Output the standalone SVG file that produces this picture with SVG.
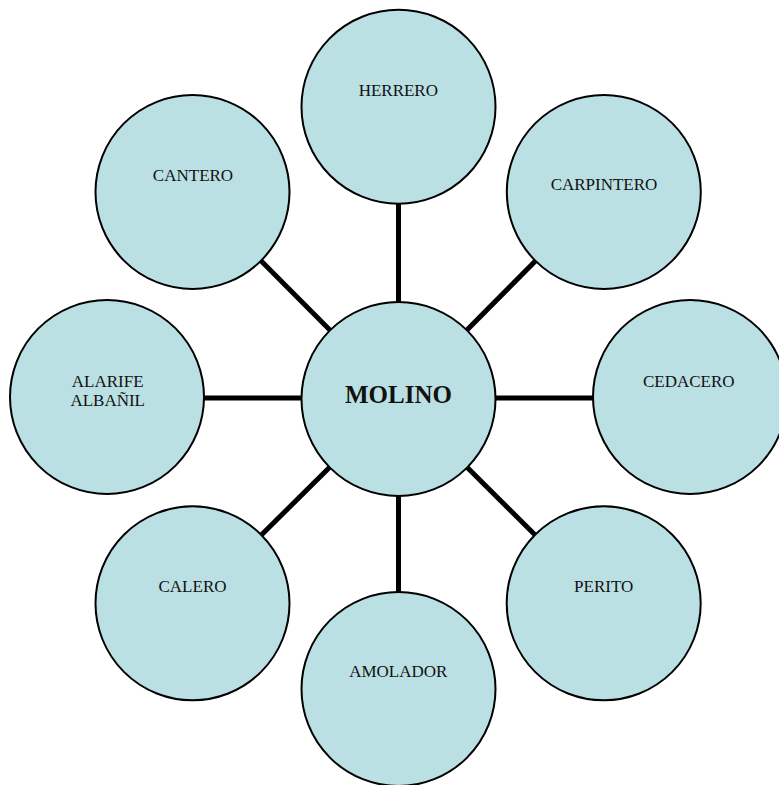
<svg xmlns="http://www.w3.org/2000/svg" width="779" height="785" viewBox="0 0 779 785">
<style>
.n{fill:#BBE0E3;stroke:#000;stroke-width:2}
.t{font-family:"Liberation Serif","Times New Roman",serif;font-size:17px;fill:#111;text-anchor:middle}
.b{font-family:"Liberation Serif","Times New Roman",serif;font-size:25px;font-weight:bold;fill:#111;text-anchor:middle}
.c line{stroke:#000;stroke-width:5}
</style>
<rect width="779" height="785" fill="#fff"/>
<g id="connectors" class="c">
<line x1="398.5" y1="399" x2="398.5" y2="106.7"/>
<line x1="398.5" y1="399" x2="603.8" y2="192"/>
<line x1="398.5" y1="398" x2="690" y2="398"/>
<line x1="398.5" y1="399" x2="603.7" y2="603.3"/>
<line x1="398.5" y1="399" x2="398.5" y2="689"/>
<line x1="398.5" y1="399" x2="192.5" y2="603.3"/>
<line x1="398.5" y1="398" x2="107" y2="398"/>
<line x1="398.5" y1="399" x2="192.5" y2="192"/>
</g>
<g id="molino"><circle class="n" cx="398.5" cy="399" r="97"/><text class="b" x="398.5" y="403">MOLINO</text></g>
<g id="herrero"><circle class="n" cx="398.5" cy="106.7" r="97"/><text class="t" x="398.3" y="96">HERRERO</text></g>
<g id="carpintero"><circle class="n" cx="603.8" cy="192" r="97"/><text class="t" x="604" y="190">CARPINTERO</text></g>
<g id="cedacero"><circle class="n" cx="690" cy="397" r="97"/><text class="t" x="688.8" y="386.7">CEDACERO</text></g>
<g id="perito"><circle class="n" cx="603.7" cy="603.3" r="97"/><text class="t" x="603.7" y="591.7">PERITO</text></g>
<g id="amolador"><circle class="n" cx="398.5" cy="689" r="97"/><text class="t" x="398.3" y="676.7">AMOLADOR</text></g>
<g id="calero"><circle class="n" cx="192.5" cy="603.3" r="97"/><text class="t" x="192.5" y="591.7">CALERO</text></g>
<g id="alarife"><circle class="n" cx="107" cy="397" r="97"/><text class="t" x="107.7" y="386.7">ALARIFE</text><text class="t" x="107.7" y="405.7">ALBAÑIL</text></g>
<g id="cantero"><circle class="n" cx="192.5" cy="192" r="97"/><text class="t" x="193" y="180.7">CANTERO</text></g>
</svg>
